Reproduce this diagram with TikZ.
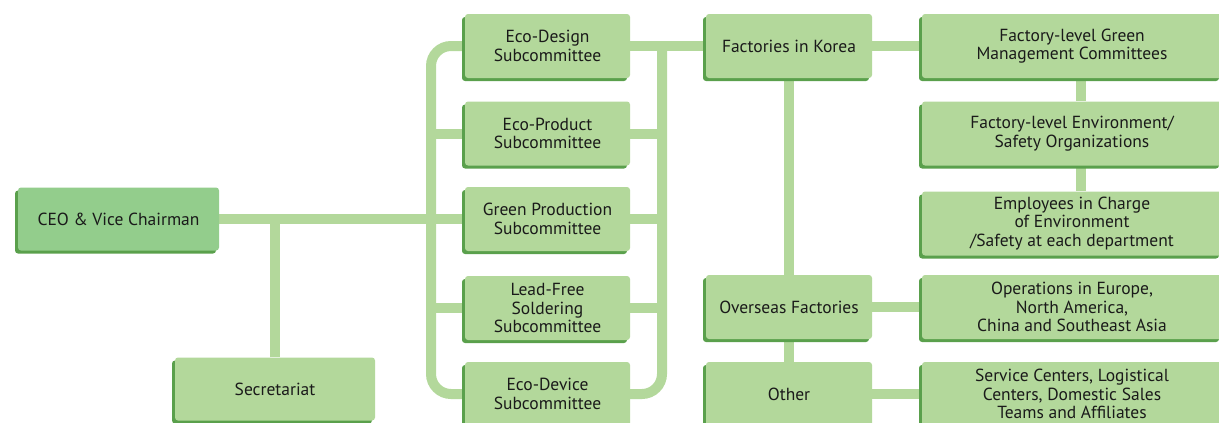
\documentclass[tikz,border=0pt]{standalone}
\usepackage{fontspec}
\setmainfont{PT Sans}
\usetikzlibrary{shadows,backgrounds}
\definecolor{boxgreen}{HTML}{B3D89B}
\definecolor{ceogreen}{HTML}{93CD8C}
\definecolor{shadowgreen}{HTML}{5AA04C}
\definecolor{txt}{HTML}{1A1A1A}
\tikzset{
  orgbox/.style={draw=none, fill=boxgreen, rounded corners=3pt, align=center, text=txt,
    font=\fontsize{17.5}{18.5}\selectfont, inner sep=0pt,
    general shadow={fill=shadowgreen, shadow xshift=-3pt, shadow yshift=-3pt}},
  sub/.style={orgbox, minimum width=165pt, minimum height=64pt},
  mid/.style={orgbox, minimum width=166pt, minimum height=64pt},
  wide/.style={orgbox, minimum width=300pt, minimum height=64pt},
  link/.style={draw=boxgreen, line width=10pt},
}
\begin{document}
\begin{tikzpicture}[x=1pt,y=-1pt]
\useasboundingbox (0,0) rectangle (1219,423);
\clip (0,0) rectangle (1219,423);
% nodes
\node[orgbox, fill=ceogreen, minimum width=201pt, minimum height=63pt] (ceo) at (118.5,219) {CEO \& Vice Chairman};
\node[orgbox, minimum width=200pt, minimum height=63pt] (sec) at (275,389) {Secretariat};
\node[sub] (ed) at (547.5,46) {Eco-Design\\Subcommittee};
\node[sub] (ep) at (547.5,133.5) {Eco-Product\\Subcommittee};
\node[sub] (gp) at (547.5,219) {Green Production\\Subcommittee};
\node[sub] (lf) at (547.5,308) {Lead-Free\\Soldering\\Subcommittee};
\node[sub] (edev) at (547.5,394) {Eco-Device\\Subcommittee};
\node[mid] (kor) at (789,46) {Factories in Korea};
\node[mid] (ovs) at (789,307) {Overseas Factories};
\node[mid] (oth) at (789,394) {Other};
\node[wide] (fgm) at (1072,46) {Factory-level Green\\Management Committees};
\node[wide] (env) at (1072,133.5) {Factory-level Environment/\\Safety Organizations};
\node[wide] (emp) at (1072,223.5) {Employees in Charge\\of Environment\\/Safety at each department};
\node[wide] (ops) at (1072,307) {Operations in Europe,\\North America,\\China and Southeast Asia};
\node[wide] (svc) at (1072,394) {Service Centers, Logistical\\Centers, Domestic Sales\\Teams and Affiliates};
\coordinate (lb) at (431,0);
\coordinate (rb) at (662,0);
% connectors (behind boxes)
\begin{pgfonlayer}{background}
\draw[link] (ceo.east) -- (gp.west);
\draw[link] (sec.north) -- (sec.north |- ceo.east);
\draw[link, rounded corners=20pt] (ed.west) -| (lb |- edev.west) -- (edev.west);
\draw[link] (ep.west) -- (ep.west -| lb);
\draw[link] (lf.west) -- (lf.west -| lb);
\draw[link] (ed.east) -- (kor.west);
\draw[link, rounded corners=20pt] (ed.east -| rb) -- (rb |- edev.east) -- (edev.east);
\draw[link] (ep.east) -- (ep.east -| rb);
\draw[link] (gp.east) -- (gp.east -| rb);
\draw[link] (lf.east) -- (lf.east -| rb);
\draw[link] (kor.east) -- (fgm.west);
\draw[link] (kor.south) -- (ovs.north);
\draw[link] (ovs.south) -- (oth.north);
\draw[link] (ovs.east) -- (ops.west);
\draw[link] (oth.east) -- (svc.west);
\draw[link] ([xshift=9pt]fgm.south) -- ([xshift=9pt]env.north);
\draw[link] ([xshift=9pt]env.south) -- ([xshift=9pt]emp.north);
\end{pgfonlayer}
\end{tikzpicture}
\end{document}
